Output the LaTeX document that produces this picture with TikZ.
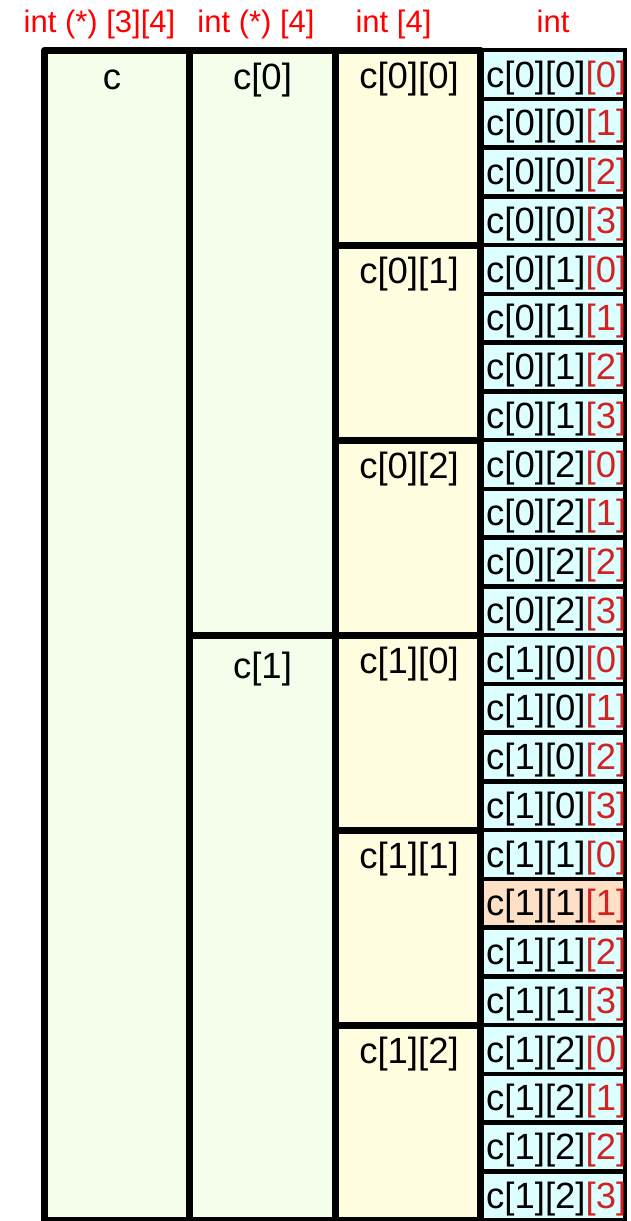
\documentclass[tikz,border=0pt]{standalone}
\usepackage{fontspec}
\setmainfont{Liberation Sans}
\definecolor{hdr}{HTML}{FF0000}
\definecolor{idx}{HTML}{D02424}
\definecolor{grn}{HTML}{F5FEEA}
\definecolor{ylw}{HTML}{FFFDE0}
\definecolor{cyn}{HTML}{DDFFFF}
\definecolor{pch}{HTML}{FDE0C6}
\begin{document}
\begin{tikzpicture}[x=1pt,y=-1pt,
 box/.style={draw=black, line width=7pt, line join=round, outer sep=0pt, inner sep=0pt, anchor=north west},
 cell/.style={draw=black, line width=4.5pt, fill=cyn, outer sep=0pt, inner sep=0pt, anchor=north west, minimum width=145pt, minimum height=48.75pt},
 lbl/.style={font=\fontsize{36.5}{40}\selectfont, inner sep=0pt, anchor=base},
 clbl/.style={font=\fontsize{36.5}{40}\selectfont, inner sep=0pt, anchor=base west},
 hd/.style={font=\fontsize{31}{34}\selectfont, text=hdr, inner sep=0pt, anchor=base},
]
\useasboundingbox (0,0) rectangle (630,1221);
% headers
\node[hd] (h1) at (99.5,32) {int (*) [3][4]};
\node[hd] (h2) at (256,32) {int (*) [4]};
\node[hd] (h3) at (393.5,32) {int [4]};
\node[hd] (h4) at (553,32) {int};
% int cells
\foreach \n in {0,...,23}{
  \pgfmathsetmacro{\yy}{50+\n*48.75}
  \ifnum\n=17
    \node[cell, fill=pch] (e\n) at (480,\yy) {};
  \else
    \node[cell] (e\n) at (480,\yy) {};
  \fi
}
\begin{scope}
\clip (480,0) rectangle (623,1221);
\foreach \n in {0,...,23}{
  \pgfmathtruncatemacro{\ii}{\n/12}
  \pgfmathtruncatemacro{\jj}{mod(\n,12)/4}
  \pgfmathtruncatemacro{\kk}{mod(\n,4)}
  \pgfmathsetmacro{\yy}{50+\n*48.75+37}
  \node[clbl] (t\n) at (486,\yy) {c[\ii][\jj]\textcolor{idx}{[\kk]}};
}
\end{scope}
% column 1
\node[box, fill=grn, minimum width=145pt, minimum height=1170pt] (c) at (44.5,50) {};
\node[lbl] (lc) at (112,89) {c};
% column 2
\node[box, fill=grn, minimum width=145.5pt, minimum height=585pt] (c0) at (189.5,50) {};
\node[box, fill=grn, minimum width=145.5pt, minimum height=585pt] (c1) at (189.5,635) {};
\node[lbl] (lc0) at (262.5,89) {c[0]};
\node[lbl] (lc1) at (262.5,678) {c[1]};
% column 3
\foreach \n in {0,...,5}{
  \pgfmathtruncatemacro{\ii}{\n/3}
  \pgfmathtruncatemacro{\jj}{mod(\n,3)}
  \pgfmathsetmacro{\yy}{50+\n*195}
  \node[box, fill=ylw, minimum width=145pt, minimum height=195pt] (b\n) at (335,\yy) {};
  \node[lbl] (lb\n) at (409,\yy+38) {c[\ii][\jj]};
}
\end{tikzpicture}
\end{document}
